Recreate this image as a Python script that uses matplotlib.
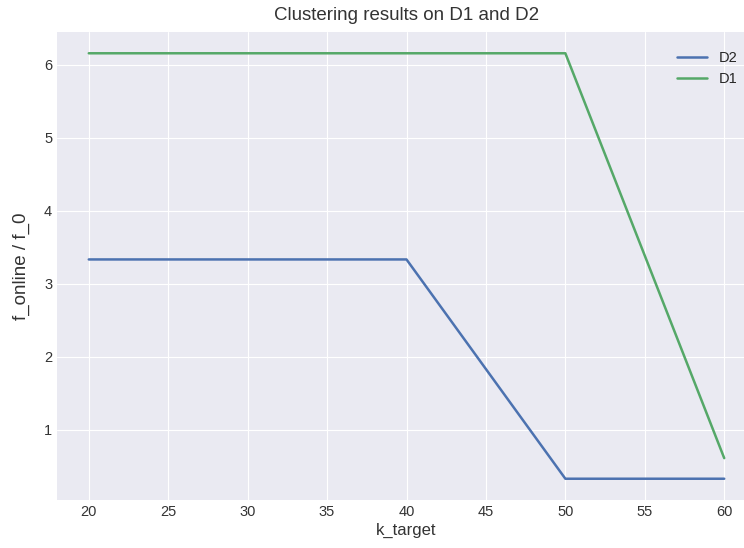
import matplotlib
matplotlib.use("Agg")
import matplotlib.pyplot as plt

k_target = [20, 30, 40, 50, 60]
d2 = [10 / 3, 10 / 3, 10 / 3, 1 / 3, 1 / 3]
d1 = [6.154, 6.154, 6.154, 6.154, 0.615]

plt.style.use("seaborn-v0_8-darkgrid")
plt.rcParams["font.family"] = ["Liberation Sans", "DejaVu Sans"]

fig, ax = plt.subplots(figsize=(7.44, 5.48), dpi=100)
# the reference is cropped on the right, so the axes run past the figure edge
fig.subplots_adjust(left=57 / 744, right=756 / 744, top=1 - 32 / 548, bottom=1 - 500 / 548)

ax.plot(k_target, d2, color="#4C72B0", linewidth=1.8, label="D2")
ax.plot(k_target, d1, color="#55A868", linewidth=1.8, label="D1")

ax.set_title("Clustering results on D1 and D2", fontsize=13.5, color="#333333", pad=9)
ax.set_xlabel("k_target", fontsize=12, color="#333333", labelpad=3)
ax.set_ylabel("f_online / f_0", fontsize=13.5, color="#333333", labelpad=10)
ax.tick_params(labelsize=10.5, labelcolor="#333333")
ax.legend(loc="upper right", frameon=False, fontsize=10.5, borderaxespad=0.9)

fig.savefig("out.png", dpi=100)
